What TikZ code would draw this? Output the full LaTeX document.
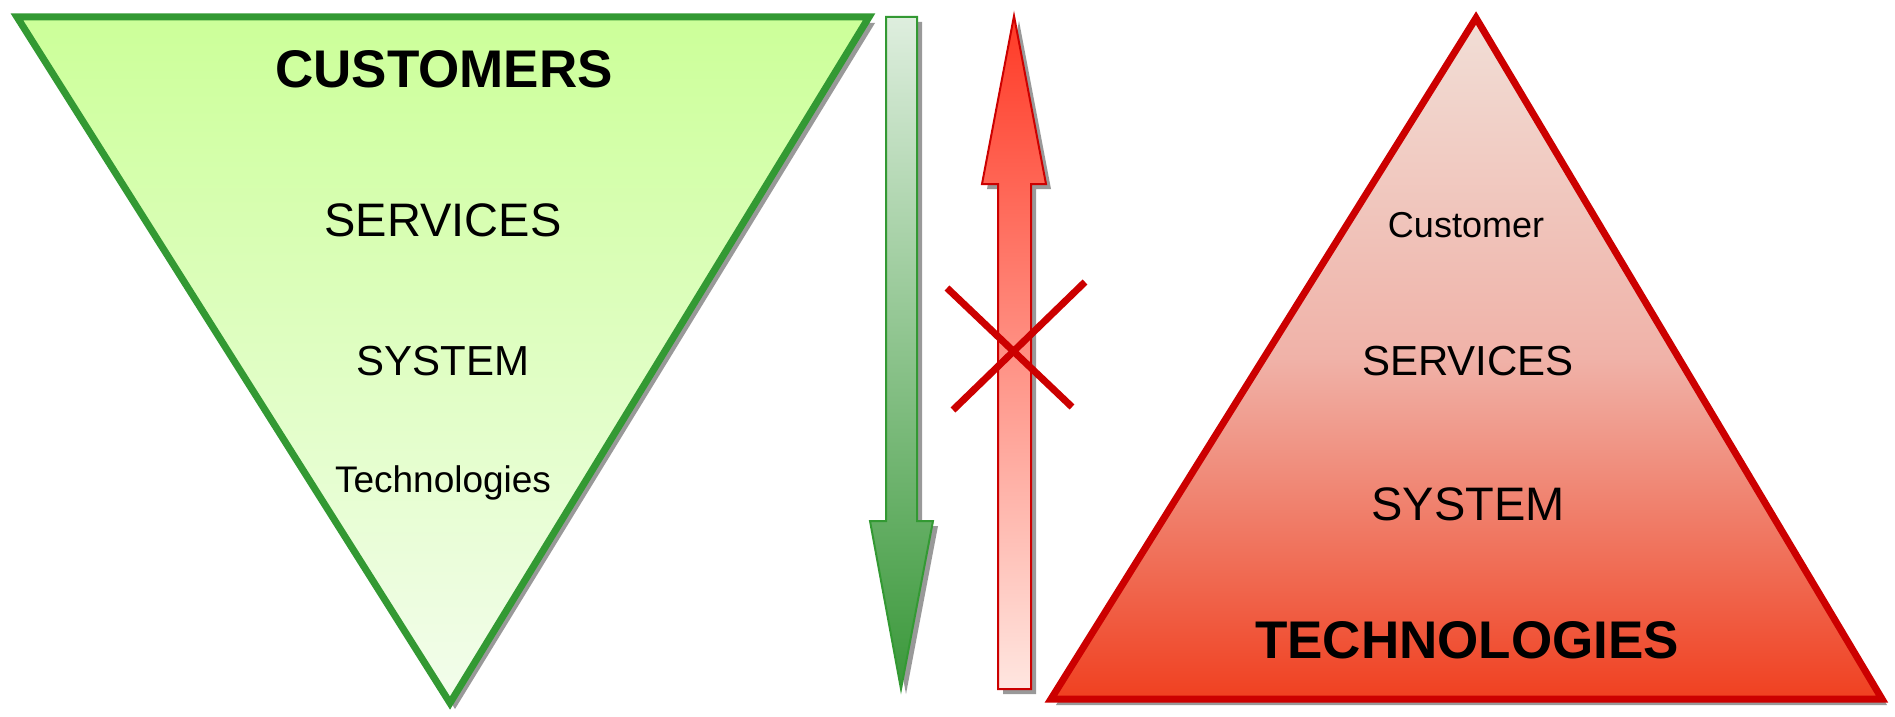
\documentclass[tikz,border=0pt]{standalone}
\usepackage{fontspec}
\setmainfont{Liberation Sans}
\definecolor{gstroke}{RGB}{51,153,51}
\definecolor{rstroke}{RGB}{204,0,0}
\definecolor{shadowgray}{RGB}{153,153,153}
\definecolor{gtritop}{RGB}{204,255,153}
\definecolor{gtribot}{RGB}{243,253,236}
\definecolor{garrtop}{RGB}{222,238,222}
\definecolor{garrbot}{RGB}{58,152,58}
\definecolor{rarrtop}{RGB}{255,58,38}
\definecolor{rarrbot}{RGB}{255,230,224}
\definecolor{rtritop}{RGB}{241,222,214}
\definecolor{rtrimid}{RGB}{240,178,168}
\definecolor{rtribot}{RGB}{240,64,32}
\tikzset{
  shadowshape/.style={fill=shadowgray, draw=none},
  txt/.style={inner sep=0pt, anchor=base, text=black},
}
\newcommand{\fsz}[1]{\fontsize{#1}{#1}\selectfont}
\begin{document}
\begin{tikzpicture}[x=1pt,y=-1pt]
\useasboundingbox (0,0) rectangle (1895,717);
% ---------- green inverted triangle ----------
\fill[shadowgray] (17+6,17+6) -- (869+6,17+6) -- (450+5,703+6) -- cycle;
\path[top color=gtritop, bottom color=gtribot, draw=gstroke, line width=7pt, line join=miter]
  (17,17) -- (869,17) -- (450,703) -- cycle;
\node[txt, font=\bfseries\fsz{53}] (cust) at (444,87) {CUSTOMERS};
\node[txt, font=\fsz{47}] (servL) at (443,236) {SERVICES};
\node[txt, font=\fsz{42}] (sysL) at (443,375) {SYSTEM};
\node[txt, font=\fsz{37}] (techL) at (443,492) {Technologies};
% ---------- green down arrow ----------
\fill[shadowgray] (886+5,17+5) -- (917+5,17+5) -- (917+5,521+5) -- (933+5,521+5) -- (901+5,689+5) -- (870+5,521+5) -- (886+5,521+5) -- cycle;
\path[top color=garrtop, bottom color=garrbot, draw=gstroke, line width=2pt]
  (886,17) -- (917,17) -- (917,521) -- (933,521) -- (901,689) -- (870,521) -- (886,521) -- cycle;
% ---------- red up arrow ----------
\fill[shadowgray] (1014+5,16+5) -- (1046+5,184+5) -- (1031+5,184+5) -- (1031+5,689+5) -- (998+5,689+5) -- (998+5,184+5) -- (982+5,184+5) -- cycle;
\path[top color=rarrtop, bottom color=rarrbot, draw=rstroke, line width=2pt]
  (1014,16) -- (1046,184) -- (1031,184) -- (1031,689) -- (998,689) -- (998,184) -- (982,184) -- cycle;
% ---------- red cross ----------
\coordinate (x1a) at (947,288);
\coordinate (x1b) at (1072,407);
\coordinate (x2a) at (1085,282);
\coordinate (x2b) at (953,410);
\draw[rstroke, line width=7pt] (x1a) -- (x1b);
\draw[rstroke, line width=7pt] (x2a) -- (x2b);
% ---------- red triangle ----------
\fill[shadowgray] (1476+5,18+6) -- (1882+5,699+6) -- (1051+5,699+6) -- cycle;
\path[top color=rtritop, bottom color=rtribot, middle color=rtrimid, draw=rstroke, line width=7pt, line join=miter]
  (1476,18) -- (1882,699) -- (1051,699) -- cycle;
\node[txt, font=\fsz{36}] (custR) at (1466,237) {Customer};
\node[txt, font=\fsz{42}] (servR) at (1468,375) {SERVICES};
\node[txt, font=\fsz{47}] (sysR) at (1468,520) {SYSTEM};
\node[txt, font=\bfseries\fsz{53}] (techR) at (1467,658) {TECHNOLOGIES};
\end{tikzpicture}
\end{document}
